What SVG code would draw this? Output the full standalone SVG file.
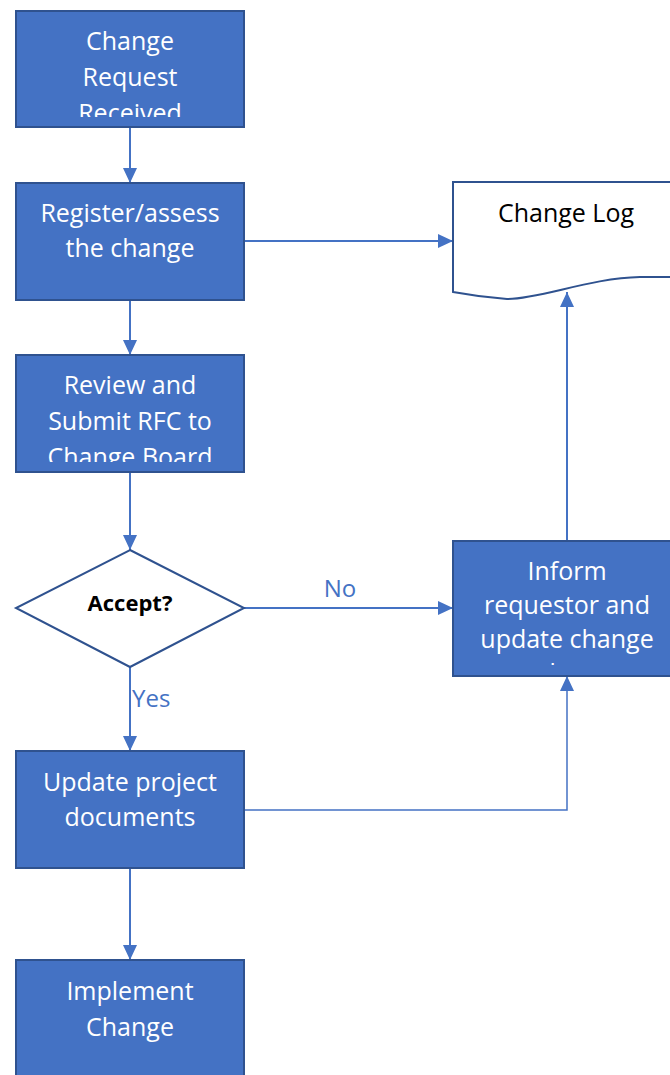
<svg xmlns="http://www.w3.org/2000/svg" width="670" height="1075" viewBox="0 0 670 1075">
  <style>
    .box { fill: #4472C4; stroke: #2F528F; stroke-width: 2; }
    .shape { fill: #FFFFFF; stroke: #2F528F; stroke-width: 2; }
    .lbl { font-family: "Open Sans", "Liberation Sans", sans-serif; font-size: 25px; fill: #FFFFFF; text-anchor: middle; }
    .dark { fill: #000000; }
    .bold { font-weight: bold; font-size: 22px; }
    .edge { fill: none; stroke: #4472C4; stroke-width: 2; }
    .thin { stroke-width: 1.5; }
    .elbl { font-family: "Open Sans", "Liberation Sans", sans-serif; font-size: 24px; fill: #4472C4; }
  </style>
  <defs>
    <marker id="arrow" viewBox="0 0 15 14" refX="15" refY="7" markerWidth="15" markerHeight="14" markerUnits="userSpaceOnUse" orient="auto">
      <path d="M0,0 L15,7 L0,14 Z" fill="#4472C4"/>
    </marker>
    <clipPath id="clip-received"><rect x="16" y="11" width="228" height="106"/></clipPath>
    <clipPath id="clip-review"><rect x="16" y="355" width="228" height="107"/></clipPath>
    <clipPath id="clip-inform"><rect x="453" y="541" width="228" height="124"/></clipPath>
  </defs>

  <!-- connectors -->
  <g id="connectors">
    <line class="edge" x1="130" y1="128" x2="130" y2="183" marker-end="url(#arrow)"/>
    <line class="edge" x1="244" y1="241" x2="453" y2="241" marker-end="url(#arrow)"/>
    <line class="edge" x1="130" y1="300" x2="130" y2="355" marker-end="url(#arrow)"/>
    <line class="edge" x1="130" y1="472" x2="130" y2="550" marker-end="url(#arrow)"/>
    <line class="edge" x1="244" y1="608" x2="453" y2="608" marker-end="url(#arrow)"/>
    <text class="elbl" x="340" y="597" text-anchor="middle">No</text>
    <line class="edge" x1="130" y1="667" x2="130" y2="751" marker-end="url(#arrow)"/>
    <text class="elbl" x="132" y="707">Yes</text>
    <line class="edge" x1="567" y1="541" x2="567" y2="292" marker-end="url(#arrow)"/>
    <polyline class="edge thin" points="244,810 567,810 567,676" marker-end="url(#arrow)"/>
    <line class="edge" x1="130" y1="868" x2="130" y2="960" marker-end="url(#arrow)"/>
  </g>

  <!-- process steps -->
  <g id="change-request-received">
    <rect class="box" x="16" y="11" width="228" height="116"/>
    <g clip-path="url(#clip-received)">
      <text class="lbl" x="130" y="50">Change</text>
      <text class="lbl" x="130" y="86">Request</text>
      <text class="lbl" x="130" y="122">Received</text>
    </g>
  </g>

  <g id="register-assess">
    <rect class="box" x="16" y="183" width="228" height="117"/>
    <text class="lbl" x="130" y="222">Register/assess</text>
    <text class="lbl" x="130" y="257">the change</text>
  </g>

  <g id="change-log">
    <path class="shape" d="M453,292 V182 H681 V277 L640,277 C590,278 540,299 507,299 Q480,297 453,292 Z"/>
    <text class="lbl dark" x="566" y="222">Change Log</text>
  </g>

  <g id="review-submit">
    <rect class="box" x="16" y="355" width="228" height="117"/>
    <g clip-path="url(#clip-review)">
      <text class="lbl" x="130" y="394">Review and</text>
      <text class="lbl" x="130" y="430">Submit RFC to</text>
      <text class="lbl" x="130" y="466">Change Board</text>
    </g>
  </g>

  <g id="accept-decision">
    <polygon class="shape" points="130,550 244,608 130,667 16,608"/>
    <text class="lbl dark bold" x="130" y="611">Accept?</text>
  </g>

  <g id="inform-requestor">
    <rect class="box" x="453" y="541" width="228" height="135"/>
    <g clip-path="url(#clip-inform)">
      <text class="lbl" x="567" y="580">Inform</text>
      <text class="lbl" x="567" y="614">requestor and</text>
      <text class="lbl" x="567" y="648">update change</text>
      <text class="lbl" x="567" y="682">log</text>
    </g>
  </g>

  <g id="update-documents">
    <rect class="box" x="16" y="751" width="228" height="117"/>
    <text class="lbl" x="130" y="791">Update project</text>
    <text class="lbl" x="130" y="826">documents</text>
  </g>

  <g id="implement-change">
    <rect class="box" x="16" y="960" width="228" height="130"/>
    <text class="lbl" x="130" y="1000">Implement</text>
    <text class="lbl" x="130" y="1036">Change</text>
  </g>
</svg>
